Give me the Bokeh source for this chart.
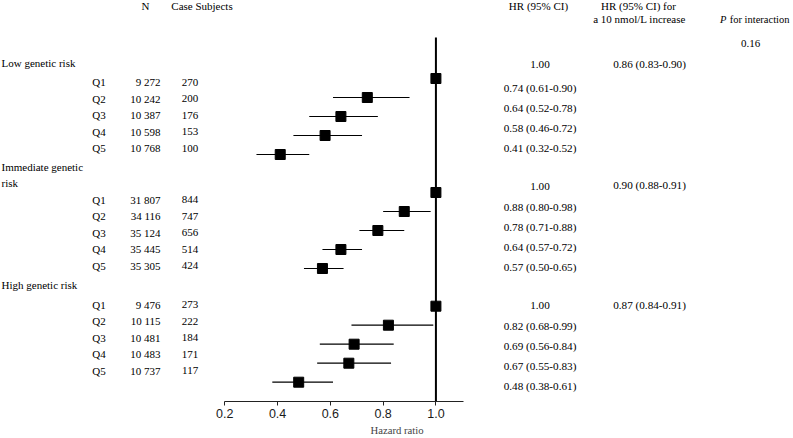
from bokeh.plotting import figure
from bokeh.models import Range1d, FixedTicker, NumeralTickFormatter, ColumnDataSource
from bokeh.core.properties import value
from bokeh.embed import file_html
from bokeh.resources import INLINE

# ---------------- data ----------------
groups = ["Low genetic risk", "Immediate genetic", "High genetic risk"]
quintiles = ["Q1", "Q2", "Q3", "Q4", "Q5"]
n_low = ["9 272", "10 242", "10 387", "10 598", "10 768"]
n_imm = ["31 807", "34 116", "35 124", "35 445", "35 305"]
n_high = ["9 476", "10 115", "10 481", "10 483", "10 737"]
cases_low = ["270", "200", "176", "153", "100"]
cases_imm = ["844", "747", "656", "514", "424"]
cases_high = ["273", "222", "184", "171", "117"]
hr_low = [1.00, 0.74, 0.64, 0.58, 0.41]
lo_low = [1.00, 0.61, 0.52, 0.46, 0.32]
hi_low = [1.00, 0.90, 0.78, 0.72, 0.52]
hr_imm = [1.00, 0.88, 0.78, 0.64, 0.57]
lo_imm = [1.00, 0.80, 0.71, 0.57, 0.50]
hi_imm = [1.00, 0.98, 0.88, 0.72, 0.65]
hr_high = [1.00, 0.82, 0.69, 0.67, 0.48]
lo_high = [1.00, 0.68, 0.56, 0.55, 0.38]
hi_high = [1.00, 0.99, 0.84, 0.83, 0.61]
per10 = ["0.86 (0.83-0.90)", "0.90 (0.88-0.91)", "0.87 (0.84-0.91)"]
p_interaction = "0.16"
x_ticks = [0.2, 0.4, 0.6, 0.8, 1.0]

all_n = [n_low, n_imm, n_high]
all_cases = [cases_low, cases_imm, cases_high]
all_hr = [hr_low, hr_imm, hr_high]
all_lo = [lo_low, lo_imm, lo_high]
all_hi = [hi_low, hi_imm, hi_high]

# ---------------- layout (pixel units) ----------------
W, H = 793, 438
AXIS_Y = 401.0
PX_PER_HR = 263.9
X0_PX = 224.3  # pixel of HR = 0.2
hr_start = 0.2 - X0_PX / PX_PER_HR
hr_end = 0.2 + (W - X0_PX) / PX_PER_HR

marker_base = [78.0, 192.0, 305.7]
marker_step = 19.0
left_base = [81.7, 199.3, 304.0]
left_step = 16.5
right_q1 = [64.0, 186.0, 305.0]
right_q2 = [87.3, 206.0, 325.6]
right_step = 20.0
per10_y = [63.3, 184.3, 304.0]

SERIF = "Liberation Serif"
FS = "11px"

p = figure(width=W, height=H, output_backend="svg", toolbar_location=None,
           x_range=Range1d(hr_start, hr_end), y_range=Range1d(AXIS_Y, 0),
           min_border_left=0, min_border_right=0, min_border_top=0,
           min_border_bottom=int(H - AXIS_Y),
           y_axis_location=None, outline_line_color=None)
p.extra_x_ranges = {"px": Range1d(0, W)}
p.xgrid.visible = False
p.ygrid.visible = False
p.background_fill_color = "white"
p.border_fill_color = "white"

ax = p.xaxis[0]
ax.bounds = (0.2, 1.105)
ax.ticker = FixedTicker(ticks=x_ticks)
ax.formatter = NumeralTickFormatter(format="0.0")
ax.minor_tick_line_color = None
ax.major_tick_out = 4
ax.major_tick_in = 0
ax.axis_line_color = "#222222"
ax.major_tick_line_color = "#222222"
ax.major_label_text_font = "Liberation Sans"
ax.major_label_text_font_size = "12.5px"
ax.major_label_text_color = "#1a1a1a"
ax.major_label_standoff = 3
ax.axis_label = "Hazard ratio"
ax.axis_label_text_font = SERIF
ax.axis_label_text_font_style = "normal"
ax.axis_label_text_font_size = "10.7px"
ax.axis_label_standoff = 3

# reference line at HR = 1
p.segment(x0=[1.0], y0=[37.0], x1=[1.0], y1=[AXIS_Y], line_color="black", line_width=2)

# CIs and markers
cx0, cx1, cy, mx, my = [], [], [], [], []
for g in range(3):
    for i in range(5):
        y = marker_base[g] + marker_step * i
        mx.append(all_hr[g][i]); my.append(y)
        if i > 0:
            cx0.append(all_lo[g][i]); cx1.append(all_hi[g][i]); cy.append(y)
p.segment(x0=cx0, y0=cy, x1=cx1, y1=cy, line_color="black", line_width=1.2)
p.scatter(x=mx, y=my, marker="square", size=10, fill_color="black", line_color="black")


def txt(xs, ys, ts, align="left", style="normal", font=SERIF, size=FS):
    src = ColumnDataSource(dict(x=xs, y=ys, t=ts))
    p.text(x="x", y="y", text="t", source=src, x_range_name="px",
           text_font=value(font), text_font_size=value(size), text_font_style=style,
           text_align=align, text_baseline="middle", text_color="black")


# headers
txt([145], [5.7], ["N"], "center")
txt([201.5], [5.7], ["Case Subjects"], "center")
txt([538], [5.7], ["HR (95% CI)"], "center")
txt([638], [5.0], ["HR (95% CI) for"], "center")
txt([639], [18.5], ["a 10 nmol/L increase"], "center")
txt([726], [19.0], ["P"], "right", style="italic", size="10.5px")
txt([789], [19.0], ["for interaction"], "right", size="10.5px")
txt([750], [43.3], [p_interaction], "center")

# group labels
txt([1, 1, 1, 1], [62.3, 166.7, 182.3, 284.0],
    [groups[0], groups[1], "risk", groups[2]], "left")

# left table
qy, qt, nt, ct = [], [], [], []
for g in range(3):
    for i in range(5):
        y = left_base[g] + left_step * i
        qy.append(y); qt.append(quintiles[i])
        nt.append(all_n[g][i]); ct.append(all_cases[g][i])
txt([91.7] * 15, qy, qt, "left")
txt([160] * 15, qy, nt, "right")
txt([197.7] * 15, qy, ct, "right")

# right HR column
ry, rt = [], []
for g in range(3):
    for i in range(5):
        if i == 0:
            ry.append(right_q1[g]); rt.append("%.2f" % all_hr[g][i])
        else:
            ry.append(right_q2[g] + right_step * (i - 1))
            rt.append("%.2f (%.2f-%.2f)" % (all_hr[g][i], all_lo[g][i], all_hi[g][i]))
txt([539.5] * 15, ry, rt, "center", size="11.2px")
txt([649] * 3, per10_y, per10, "center", size="11.2px")

open("out.html", "w").write(file_html(p, INLINE))
